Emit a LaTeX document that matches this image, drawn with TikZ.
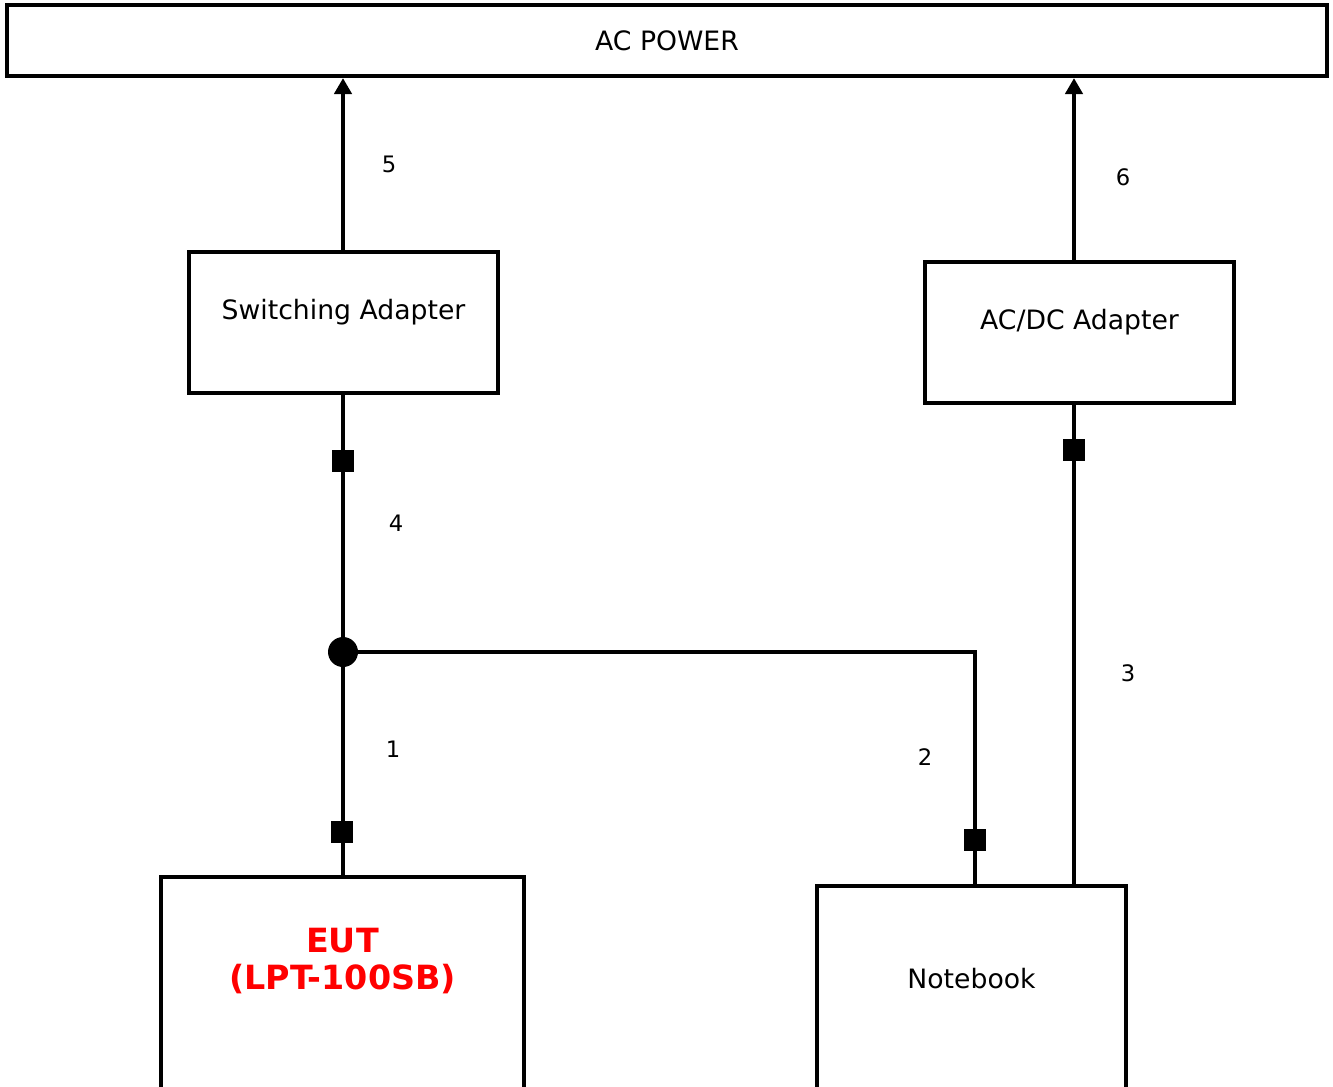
\documentclass[tikz,border=0pt]{standalone}
\usepackage{fontspec}
\setmainfont{DejaVu Sans}
\usetikzlibrary{arrows.meta, positioning}

\begin{document}
\begin{tikzpicture}[
    x=0.75pt,
    y=-0.75pt,
    font=\fontsize{20}{24}\selectfont,
    box/.style={draw=black, line width=3.2pt, inner sep=0pt},
    wire/.style={draw=black, line width=2.8pt},
    uparrow/.style={-{Triangle[width=13pt, length=12pt]}},
    plug/.style={fill=black, minimum size=16pt, inner sep=0pt},
    joint/.style={circle, fill=black, minimum size=22.5pt, inner sep=0pt},
    num/.style={font=\fontsize{17}{20}\selectfont}
]
    \useasboundingbox (0,0) rectangle (1333,1086);

    % --- Boxes ---
    \node[box, minimum width=990pt, minimum height=53.25pt] (ac) at (667,40.5) {AC POWER};
    \node[box, minimum width=231.75pt, minimum height=105.75pt, text height=10pt, text depth=14pt] (sw) at (343.5,322.5) {Switching Adapter};
    \node[box, minimum width=231.75pt, minimum height=105.75pt, text height=10pt, text depth=14pt] (acdc) at (1079.5,332.5) {AC/DC Adapter};
    \node[box, anchor=north, minimum width=272.25pt, align=center, text=red, font=\bfseries\fontsize{25}{28}\selectfont, inner ysep=66.5pt, text height=18pt, text depth=200pt] (eut) at (342.5,875) {EUT\\(LPT-100SB)};
    \node[box, anchor=north, minimum width=231.75pt, inner ysep=61.5pt, text height=15pt, text depth=200pt] (nb) at (971.5,884) {Notebook};

    % --- Joint and plugs ---
    \node[joint] (jn) at (343,652) {};
    \node[plug] (p4) at (343,461) {};
    \node[plug] (p1) at (342,832) {};
    \node[plug] (p2) at (975,840) {};
    \node[plug] (p3) at (1074,450) {};

    % --- Cables ---
    \draw[wire, uparrow] (jn |- sw.north) -- (jn |- ac.south);
    \draw[wire, uparrow] (p3 |- acdc.north) -- (p3 |- ac.south);
    \draw[wire] (jn |- sw.south) -- (jn);
    \draw[wire] (jn) -- (jn |- eut.north);
    \draw[wire] (jn) -| (p2) -- (p2 |- nb.north);
    \draw[wire] (p3 |- acdc.south) -- (p3 |- nb.north);

    % --- Cable numbers ---
    \node[num] (n5) at (389,164) {5};
    \node[num] (n6) at (1123,177) {6};
    \node[num] (n4) at (396,523) {4};
    \node[num] (n1) at (393,749) {1};
    \node[num] (n2) at (925,757) {2};
    \node[num] (n3) at (1128,673) {3};
\end{tikzpicture}
\end{document}
